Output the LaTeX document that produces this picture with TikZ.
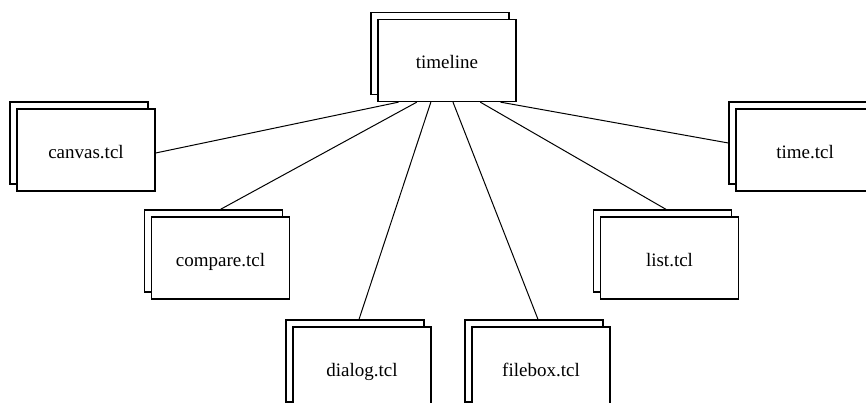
\documentclass[tikz,border=0pt]{standalone}
\usepackage{fontspec}
\setmainfont{Liberation Serif}
\usetikzlibrary{calc,shadows}
\begin{document}
\begin{tikzpicture}[x=1pt,y=-1pt,
  filebox/.style={draw=black, fill=white, line width=1.3pt,
    minimum width=138pt, minimum height=82pt, inner sep=0pt,
    text height=16.6pt, text depth=0pt,
    font=\fontsize{19}{22}\selectfont,
    copy shadow={shadow xshift=-7pt, shadow yshift=7pt, draw=black, fill=white, line width=1.3pt}},
  link/.style={draw=black, line width=1pt}]
\useasboundingbox (0,0) rectangle (866,403);
\clip (0,0) rectangle (866,403);

% modules
\node[filebox] (timeline) at (447,60.5) {timeline};
\node[filebox] (canvas)   at (86,150)   {canvas.tcl};
\node[filebox] (compare)  at (220.5,258) {compare.tcl};
\node[filebox] (dialog)   at (362,368)  {dialog.tcl};
\node[filebox] (filebx)   at (541,368)  {filebox.tcl};
\node[filebox] (list)     at (669.5,258) {list.tcl};
\node[filebox] (time)     at (805,150)  {time.tcl};

% attachment points on the timeline module
\coordinate (t1) at ($(timeline.south west)!0.152!(timeline.south east)$);
\coordinate (t2) at ($(timeline.south west)!0.283!(timeline.south east)$);
\coordinate (t3) at ($(timeline.south west)!0.384!(timeline.south east)$);
\coordinate (t4) at ($(timeline.south west)!0.543!(timeline.south east)$);
\coordinate (t5) at ($(timeline.south west)!0.739!(timeline.south east)$);
\coordinate (t6) at ($(timeline.south west)!0.884!(timeline.south east)$);

% dependency links
\draw[link] (t1) -- ([yshift=-3pt]canvas.east);
\draw[link] (t2) -- ([yshift=7pt]compare.north);
\draw[link] (t3) -- ([shift={(-3pt,7pt)}]dialog.north);
\draw[link] (t4) -- ([shift={(-3pt,7pt)}]filebx.north);
\draw[link] (t5) -- ([shift={(-3.5pt,7pt)}]list.north);
\draw[link] (t6) -- ([shift={(-7pt,7pt)}]time.west);
\end{tikzpicture}
\end{document}
